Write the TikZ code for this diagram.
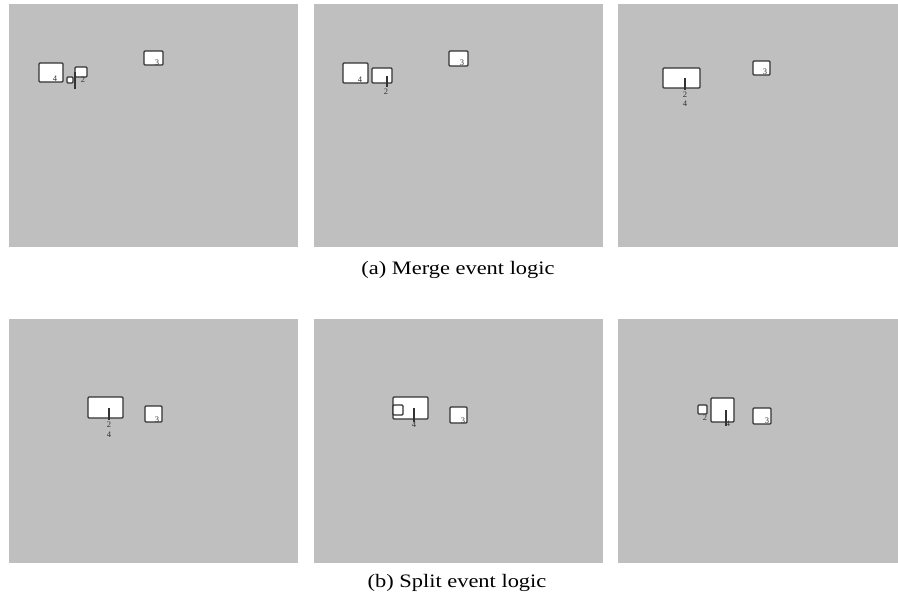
\documentclass[tikz,border=0pt]{standalone}
\usepackage{fontspec}
\setmainfont{Liberation Serif}
\newfontfamily\capfont[FakeStretch=1.18]{Liberation Serif}
\newcommand{\bx}[5]{\node[objbox, minimum width={(#4-#2)*1pt}, minimum height={(#5-#3)*1pt}] (#1) at ({(#2+#4)/2},{(#3+#5)/2}) {};}
\begin{document}
\begin{tikzpicture}[x=1pt,y=-1pt,
  panel/.style={fill=panelgray, draw=none},
  objbox/.style={draw=boxline, fill=white, line width=1.2pt, rounded corners=1pt, inner sep=0pt, outer sep=0pt},
  tickline/.style={draw=boxline, line width=1.1pt},
  lbl/.style={font=\fontsize{8.5}{8.5}\selectfont, text=boxline, inner sep=0pt},
  captext/.style={font=\capfont\fontsize{19}{19}\selectfont, text=black, inner sep=0pt}]
\definecolor{panelgray}{RGB}{191,191,191}
\definecolor{boxline}{RGB}{50,50,50}
\useasboundingbox (0,0) rectangle (898,600);
\fill[white] (0,0) rectangle (898,600);
% panels
\path[panel] (9,4) rectangle (298,247);
\path[panel] (314,4) rectangle (603,247);
\path[panel] (618,4) rectangle (898,247);
\path[panel] (9,319) rectangle (298,563);
\path[panel] (314,319) rectangle (603,563);
\path[panel] (618,319) rectangle (898,563);
% ---- (a) panel 1
\bx{aA4}{39}{63}{63}{82}
\bx{aAs}{67}{77}{73}{83}
\bx{aA2}{75}{67}{87}{77}
\bx{aA3}{144}{51}{163}{65}
\coordinate (aA1e) at (75,89);
\draw[tickline] (aA2.west) -- (aA1e);
\node[lbl] (aA4l) at (55,79) {4};
\node[lbl] (aA2l) at (83,80) {2};
\node[lbl] (aA3l) at (157,63) {3};
% ---- (a) panel 2
\bx{aB4}{343}{63}{368}{83}
\bx{aB2}{372}{68}{392}{83}
\bx{aB3}{449}{51}{468}{66}
\coordinate (aB1e) at (387,87);
\draw[tickline] (aB2.center -| aB1e) -- (aB1e);
\node[lbl] (aB4l) at (360,80) {4};
\node[lbl] (aB2l) at (386,92) {2};
\node[lbl] (aB3l) at (462,63) {3};
% ---- (a) panel 3
\bx{aC4}{663}{68}{700}{88}
\bx{aC3}{753}{61}{770}{75}
\coordinate (aC1e) at (685,90);
\draw[tickline] (aC4.center -| aC1e) -- (aC1e);
\node[lbl] (aC2l) at (685,95) {2};
\node[lbl] (aC4l) at (685,104) {4};
\node[lbl] (aC3l) at (765,72) {3};
% ---- (b) panel 1
\bx{bA4}{88}{397}{123}{418}
\bx{bA3}{145}{406}{162}{422}
\coordinate (bA1e) at (109,420);
\draw[tickline] (bA4.center -| bA1e) -- (bA1e);
\node[lbl] (bA2l) at (109,425) {2};
\node[lbl] (bA4l) at (109,435) {4};
\node[lbl] (bA3l) at (157,420) {3};
% ---- (b) panel 2
\bx{bB4}{393}{397}{428}{419}
\bx{bBs}{393}{405}{403}{415}
\bx{bB3}{450}{407}{467}{423}
\coordinate (bB1e) at (414,422);
\draw[tickline] (bB4.center -| bB1e) -- (bB1e);
\node[lbl] (bB4l) at (414,425) {4};
\node[lbl] (bB3l) at (463,421) {3};
% ---- (b) panel 3
\bx{bC2}{698}{405}{707}{414}
\bx{bC4}{711}{398}{734}{422}
\bx{bC3}{753}{408}{771}{424}
\coordinate (bC1e) at (726,426);
\draw[tickline] (bC4.center -| bC1e) -- (bC1e);
\node[lbl] (bC2l) at (705,418) {2};
\node[lbl] (bC4l) at (728,424) {4};
\node[lbl] (bC3l) at (767,421) {3};
% captions
\node[captext] (capa) at (458,270) {(a) Merge event logic};
\node[captext] (capb) at (457,583) {(b) Split event logic};
\end{tikzpicture}
\end{document}
